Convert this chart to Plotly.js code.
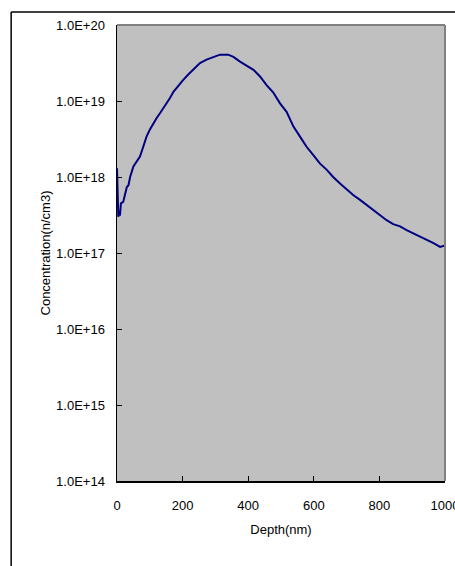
<!DOCTYPE html>
<html>
<head>
<meta charset="utf-8">
<script src="https://cdn.plot.ly/plotly-3.0.1.min.js"></script>
<style>html,body{margin:0;padding:0;background:#fff;}#chart{width:455px;height:566px;}</style>
</head>
<body>
<div id="chart"></div>
<script>
const depth = [0, 2, 4, 7, 9, 12, 19, 25, 30, 35, 40, 50, 60, 70, 80, 90, 100, 111, 120, 131, 141, 151, 162, 172, 187, 202, 218, 233, 253, 273, 294, 314, 339, 355, 375, 395, 416, 436, 456, 476, 497, 517, 538, 558, 578, 598, 619, 639, 659, 680, 700, 720, 741, 761, 781, 802, 822, 842, 863, 883, 903, 924, 944, 965, 985, 1000];
const concentration = [1.3e18, 3.3e17, 3.0e17, 3.6e17, 3.1e17, 4.5e17, 4.7e17, 6.0e17, 7.4e17, 7.8e17, 1.0e18, 1.38e18, 1.6e18, 1.86e18, 2.5e18, 3.4e18, 4.2e18, 5.1e18, 5.9e18, 6.9e18, 8.0e18, 9.3e18, 1.1e19, 1.32e19, 1.6e19, 1.9e19, 2.25e19, 2.57e19, 3.16e19, 3.5e19, 3.8e19, 4.07e19, 4.07e19, 3.8e19, 3.3e19, 2.95e19, 2.57e19, 2.1e19, 1.62e19, 1.3e19, 9.3e18, 7.2e18, 4.6e18, 3.4e18, 2.5e18, 1.95e18, 1.5e18, 1.25e18, 1.0e18, 8.2e17, 6.8e17, 5.8e17, 5.0e17, 4.3e17, 3.7e17, 3.1e17, 2.7e17, 2.4e17, 2.24e17, 2.0e17, 1.82e17, 1.65e17, 1.48e17, 1.35e17, 1.2e17, 1.26e17];
const yTickVals = [1e14, 1e15, 1e16, 1e17, 1e18, 1e19, 1e20];
const yTickText = ["1.0E+14", "1.0E+15", "1.0E+16", "1.0E+17", "1.0E+18", "1.0E+19", "1.0E+20"];
const xTickVals = [0, 200, 400, 600, 800, 1000];

const font = {family: "Liberation Sans, Arial, sans-serif", size: 13, color: "#000"};

Plotly.newPlot("chart", [{
  x: depth, y: concentration, type: "scatter", mode: "lines",
  line: {color: "#000080", width: 2}, hoverinfo: "skip"
}], {
  width: 455, height: 566,
  margin: {l: 117, r: 9.5, t: 25, b: 85, pad: 0},
  paper_bgcolor: "#ffffff", plot_bgcolor: "#c0c0c0",
  showlegend: false,
  font: font,
  xaxis: {
    range: [0, 1000], tickvals: xTickVals, ticks: "inside", ticklen: 5, tickcolor: "#000",
    showgrid: false, zeroline: false, showline: true, linecolor: "#000", linewidth: 1.5,
    ticklabelstandoff: 12, ticklabeloverflow: "allow", tickfont: font, automargin: false,
    title: {text: "Depth(nm)", font: font, standoff: 13}
  },
  yaxis: {
    type: "log", range: [14, 20], tickvals: yTickVals, ticktext: yTickText,
    ticks: "inside", ticklen: 5, tickcolor: "#000",
    showgrid: false, zeroline: false, showline: true, linecolor: "#000", linewidth: 1.5,
    ticklabelstandoff: 8, tickfont: font, automargin: false,
    title: {text: "Concentration(n/cm3)", font: font, standoff: 2}
  },
  shapes: [
    {type: "line", xref: "paper", yref: "paper", x0: 0, x1: 1, y0: 1, y1: 1, line: {color: "#808080", width: 2}},
    {type: "line", xref: "paper", yref: "paper", x0: 1, x1: 1, y0: 0, y1: 1, line: {color: "#808080", width: 2}},
    {type: "line", xref: "paper", yref: "paper", x0: -0.3227, x1: 1.04, y0: 1.0285, y1: 1.0285, line: {color: "#000", width: 1.5}},
    {type: "line", xref: "paper", yref: "paper", x0: -0.3227, x1: -0.3227, y0: -0.2, y1: 1.0285, line: {color: "#000", width: 1.5}}
  ]
}, {displayModeBar: false, staticPlot: true});
</script>
</body>
</html>
